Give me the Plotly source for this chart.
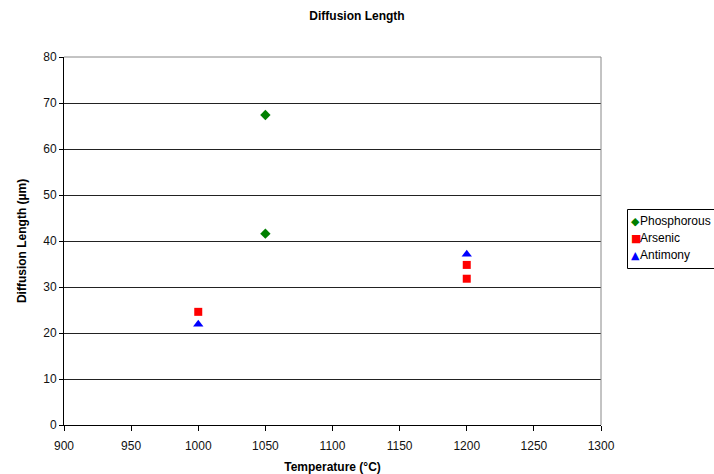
import plotly.graph_objects as go

# Diffusion length measurements by dopant
phos_temp = [1050, 1050]
phos_len = [67.4, 41.6]
arsenic_temp = [1000, 1200, 1200]
arsenic_len = [24.6, 34.8, 31.8]
antimony_temp = [1000, 1200]
antimony_len = [21.9, 37.1]

series_names = ["Phosphorous", "Arsenic", "Antimony"]
series_colors = ["#008000", "#ff0000", "#0000ff"]
series_glyphs = ["◆", "■", "▲"]

x_ticks = list(range(900, 1301, 50))
y_ticks = list(range(0, 81, 10))

font = "Liberation Sans, Arial, sans-serif"

# plotting area in pixels (figure is 714 x 474)
W, H = 714, 474
L, R, T, B = 64, 113, 57, 49
pw, ph = W - L - R, H - T - B


def px_x(px):
    return (px - L) / pw


def px_y(py):
    return (H - B - py) / ph


fig = go.Figure()
fig.add_trace(go.Scatter(x=phos_temp, y=phos_len, mode="markers", name=series_names[0],
                         marker=dict(symbol="diamond", color=series_colors[0], size=8)))
fig.add_trace(go.Scatter(x=arsenic_temp, y=arsenic_len, mode="markers", name=series_names[1],
                         marker=dict(symbol="square", color=series_colors[1], size=8)))
fig.add_trace(go.Scatter(x=antimony_temp, y=antimony_len, mode="markers", name=series_names[2],
                         marker=dict(symbol="triangle-up", color=series_colors[2], size=9)))

fig.update_layout(
    width=W, height=H,
    margin=dict(l=L, r=R, t=T, b=B, autoexpand=False),
    paper_bgcolor="white", plot_bgcolor="white",
    font=dict(family=font, size=12, color="black"),
    title=dict(text="<b>Diffusion Length</b>", x=0.5, xanchor="center", y=0.966, yanchor="middle",
               font=dict(family=font, size=12, color="black")),
    showlegend=False,
)
fig.update_xaxes(range=[900, 1300], tickvals=x_ticks, showgrid=False,
                 showline=True, linecolor="black", linewidth=1,
                 ticks="outside", ticklen=5, tickcolor="black", zeroline=False,
                 ticklabelstandoff=5, tickfont=dict(size=12, color="#111111"),
                 title=dict(text="<b>Temperature (°C)</b>", standoff=13,
                            font=dict(family=font, size=12)))
fig.update_yaxes(range=[0, 80], tickvals=y_ticks, showgrid=True, gridcolor="#222222", gridwidth=1,
                 showline=True, linecolor="black", linewidth=1,
                 ticks="outside", ticklen=4, tickcolor="black", zeroline=False,
                 tickfont=dict(size=12, color="#111111"),
                 title=dict(text="<b>Diffusion Length (µm)</b>", standoff=14,
                            font=dict(family=font, size=12)))

# gray frame on top and right of plotting area
fig.add_shape(type="line", xref="paper", yref="paper", x0=0, x1=1, y0=1, y1=1,
              line=dict(color="#888888", width=1))
fig.add_shape(type="line", xref="paper", yref="paper", x0=1, x1=1, y0=0, y1=1,
              line=dict(color="#888888", width=1))

# legend box with marker glyphs and series names
fig.add_shape(type="rect", xref="paper", yref="paper",
              x0=px_x(627.5), x1=px_x(760), y0=px_y(268.5), y1=px_y(209.5),
              line=dict(color="black", width=1), fillcolor="white", layer="above")
row_y = [221, 238, 255]
glyph_sizes = [11, 11, 11]
for name, color, glyph, gy, gs in zip(series_names, series_colors, series_glyphs, row_y, glyph_sizes):
    fig.add_annotation(xref="paper", yref="paper", x=px_x(635.5), y=px_y(gy),
                       text=glyph, showarrow=False, xanchor="center", yanchor="middle",
                       font=dict(family="DejaVu Sans", size=gs, color=color))
    fig.add_annotation(xref="paper", yref="paper", x=px_x(639), y=px_y(gy),
                       text=name, showarrow=False, xanchor="left", yanchor="middle",
                       borderpad=0,
                       font=dict(family=font, size=12, color="black"))

fig.write_html("out.html")
